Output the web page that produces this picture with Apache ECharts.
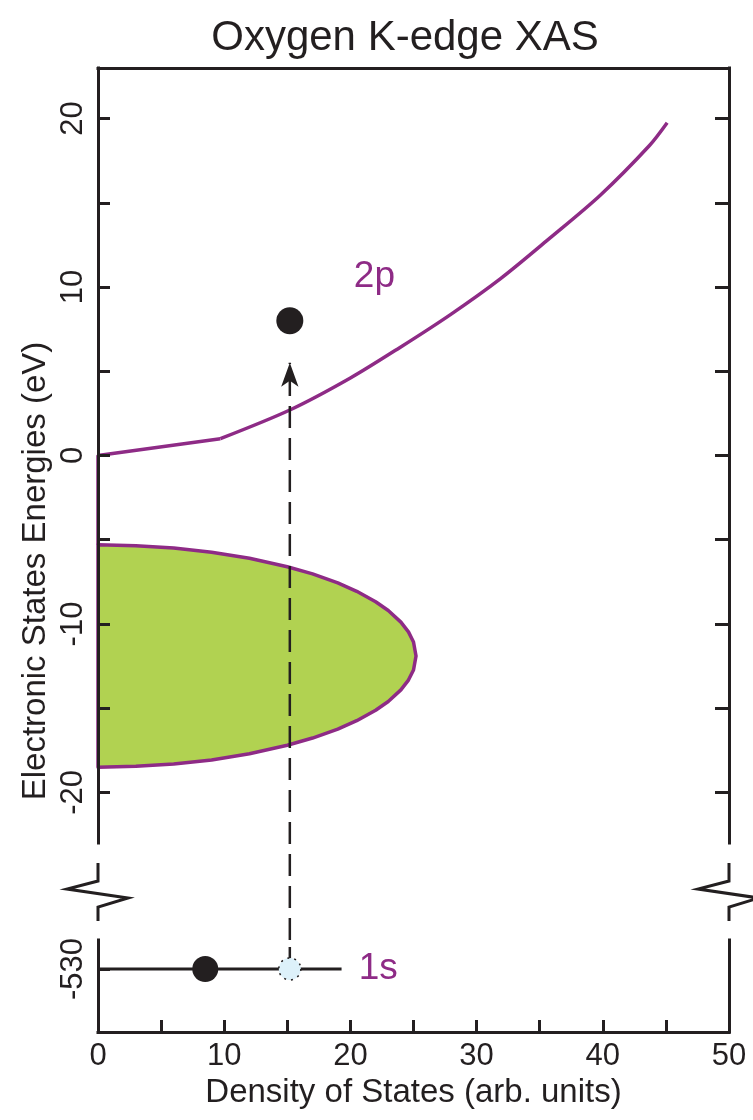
<!DOCTYPE html>
<html><head><meta charset="utf-8">
<script src="https://cdn.jsdelivr.net/npm/echarts@6/dist/echarts.min.js"></script>
<style>html,body{margin:0;padding:0;background:#fff}#c{width:753px;height:1120px}</style>
</head><body><div id="c"></div>
<script>
// ---- tick / label values ----
const xTickValues = [0, 5, 10, 15, 20, 25, 30, 35, 40, 45, 50];
const xLabelValues = [0, 10, 20, 30, 40, 50];
const yTickValues = [-20, -15, -10, -5, 0, 5, 10, 15, 20];
const yLabelValues = [-20, -10, 0, 10, 20];
const coreTickValues = [-530];

// ---- 2p conduction band (density of states, energy eV) ----
const p2StraightX = [0, 0, 9.7];
const p2StraightY = [-5.3, 0, 1.0];
const p2CurveX = [9.7, 15.2, 20.0, 23.9, 27.9, 31.9, 35.8, 39.8, 43.7, 45.1];
const p2CurveY = [1.0, 2.7, 4.6, 6.4, 8.35, 10.5, 12.9, 15.45, 18.4, 19.75];

// ---- filled valence band lobe ----
const vbX = [0, 3, 6, 9, 12, 15, 17, 19, 20.5, 22, 23, 24, 24.6, 25, 25.2];
const vbTopY = [-5.3, -5.35, -5.49, -5.74, -6.1, -6.6, -7.03, -7.56, -8.06, -8.68, -9.2, -9.89, -10.47, -11.07, -11.9];
const vbBottomY = [-18.5, -18.45, -18.31, -18.07, -17.7, -17.2, -16.77, -16.24, -15.74, -15.12, -14.6, -13.91, -13.33, -12.73, -11.9];

// ---- 1s core level and transition ----
const coreLevelX = [0, 19.3];
const coreLevelY = -530;
const coreElectronX = 8.5;
const coreHoleX = 15.2;
const excitedX = 15.2;
const excitedY = 8.0;
const arrowTipY = 5.5;
const label2p = { text: '2p', x: 21.9, y: 10.6 };
const label1s = { text: '1s', x: 22.2, y: -530 };

// ---- layout ----
const W = 753;
const L = 98, R = 729;
const topTop = 68, topBottom = 843, botTop = 940, botBottom = 1032;
const topMin = -23, topMax = 23, botMin = -533.7, botMax = -528.3;
const INK = '#231f20', PURPLE = '#8e2b86', GREEN = '#b1d251', HOLE = '#ddf1fa';
const FONT = '"Liberation Sans", Arial, Helvetica, sans-serif';

const topScale = (topBottom - topTop) / (topMax - topMin);
const dashBottomY = topMin - (botTop - topBottom) / topScale;

const vbPoly = [];
vbX.forEach((x, i) => vbPoly.push([x, vbTopY[i]]));
for (let i = vbX.length - 2; i >= 0; i--) vbPoly.push([vbX[i], vbBottomY[i]]);

const zip = (xs, ys) => xs.map((x, i) => [x, ys[i]]);

const chart = echarts.init(document.getElementById('c'), null, { renderer: 'canvas' });

const axisLineStyle = { color: INK, width: 3, cap: 'square' };
const tickStyle = { color: INK, width: 3 };

function zig(x) {
  return [[x, 863], [x, 881], [x - 31, 889], [x + 30, 898], [x, 907], [x, 921]];
}

chart.setOption({
  animation: false,
  backgroundColor: '#fff',
  textStyle: { fontFamily: FONT },
  grid: [
    { left: L, right: W - R, top: topTop, height: topBottom - topTop },
    { left: L, right: W - R, top: botTop, height: botBottom - botTop }
  ],
  xAxis: [
    { type: 'value', gridIndex: 0, min: 0, max: 50, position: 'top',
      axisLine: { show: true, onZero: false, lineStyle: axisLineStyle }, axisTick: { show: false },
      axisLabel: { show: false }, splitLine: { show: false }, z: 5 },
    { type: 'value', gridIndex: 1, min: 0, max: 50, position: 'bottom',
      axisLine: { show: true, onZero: false, lineStyle: axisLineStyle },
      axisTick: { show: true, inside: true, length: 12, customValues: xTickValues, lineStyle: tickStyle },
      axisLabel: { show: true, customValues: xLabelValues, margin: 9, fontSize: 31, color: INK, fontFamily: FONT },
      splitLine: { show: false }, z: 5,
      name: 'Density of States (arb. units)', nameLocation: 'middle', nameGap: 44,
      nameTextStyle: { fontSize: 33, color: INK, fontFamily: FONT } }
  ],
  yAxis: [
    { type: 'value', gridIndex: 0, min: topMin, max: topMax, position: 'left',
      axisLine: { show: true, onZero: false, lineStyle: axisLineStyle },
      axisTick: { show: true, inside: true, length: 12, customValues: yTickValues, lineStyle: tickStyle },
      axisLabel: { show: true, customValues: yLabelValues, rotate: 90, margin: 9, fontSize: 31, color: INK, fontFamily: FONT },
      splitLine: { show: false }, z: 5 },
    { type: 'value', gridIndex: 0, min: topMin, max: topMax, position: 'right',
      axisLine: { show: true, onZero: false, lineStyle: axisLineStyle },
      axisTick: { show: true, inside: true, length: 14, customValues: yTickValues, lineStyle: tickStyle },
      axisLabel: { show: false }, splitLine: { show: false }, z: 5 },
    { type: 'value', gridIndex: 1, min: botMin, max: botMax, position: 'left',
      axisLine: { show: true, onZero: false, lineStyle: axisLineStyle },
      axisTick: { show: true, inside: true, length: 12, customValues: coreTickValues, lineStyle: tickStyle },
      axisLabel: { show: true, customValues: coreTickValues, rotate: 90, margin: 9, fontSize: 31, color: INK, fontFamily: FONT },
      splitLine: { show: false }, z: 5 },
    { type: 'value', gridIndex: 1, min: botMin, max: botMax, position: 'right',
      axisLine: { show: true, onZero: false, lineStyle: axisLineStyle },
      axisTick: { show: false }, axisLabel: { show: false }, splitLine: { show: false }, z: 5 }
  ],
  graphic: [
    { type: 'text', x: 405, y: 38, z: 10,
      style: { text: 'Oxygen K-edge XAS', fontSize: 42, fontFamily: FONT, fill: INK, align: 'center', verticalAlign: 'middle' } },
    { type: 'text', x: 36, y: 571, rotation: Math.PI / 2, z: 10,
      style: { text: 'Electronic States Energies (eV)', fontSize: 33, fontFamily: FONT, fill: INK, align: 'center', verticalAlign: 'middle' } },
    { type: 'polyline', z: 10, shape: { points: zig(L) }, style: { stroke: INK, lineWidth: 3, fill: null } },
    { type: 'polyline', z: 10, shape: { points: zig(R) }, style: { stroke: INK, lineWidth: 3, fill: null } }
  ],
  series: [
    { type: 'custom', xAxisIndex: 0, yAxisIndex: 0, data: vbPoly, z: 1,
      renderItem: function (params, api) {
        if (params.dataIndex !== 0) return null;
        const pts = vbPoly.map(p => api.coord(p));
        return { type: 'polygon', shape: { points: pts },
          style: { fill: GREEN, stroke: PURPLE, lineWidth: 3.5, lineJoin: 'round' } };
      } },
    { type: 'line', xAxisIndex: 0, yAxisIndex: 0, data: zip(p2StraightX, p2StraightY),
      symbol: 'none', lineStyle: { color: PURPLE, width: 3.5 }, z: 2 },
    { type: 'line', xAxisIndex: 0, yAxisIndex: 0, data: zip(p2CurveX, p2CurveY), smooth: 0.3,
      symbol: 'none', lineStyle: { color: PURPLE, width: 3.5 }, z: 2 },
    { type: 'line', xAxisIndex: 0, yAxisIndex: 0, clip: false,
      data: [[coreHoleX, dashBottomY], [coreHoleX, arrowTipY]],
      symbol: function (v, p) { return p.dataIndex === 1 ? 'arrow' : 'none'; },
      showAllSymbol: true, symbolSize: [13, 24],
      itemStyle: { color: INK, opacity: 1 },
      lineStyle: { color: INK, width: 2.5, type: [22, 10] }, z: 3 },
    { type: 'scatter', xAxisIndex: 0, yAxisIndex: 0, data: [[excitedX, excitedY]],
      symbol: 'circle', symbolSize: 27, itemStyle: { color: INK, opacity: 1 }, z: 4 },
    { type: 'scatter', xAxisIndex: 0, yAxisIndex: 0, data: [[label2p.x, label2p.y]],
      symbolSize: 0, silent: true, z: 4, itemStyle: { opacity: 1 },
      label: { show: true, position: 'inside', formatter: label2p.text, fontSize: 37, color: PURPLE, opacity: 1, fontFamily: FONT } },
    { type: 'line', xAxisIndex: 1, yAxisIndex: 2, data: coreLevelX.map(x => [x, coreLevelY]),
      symbol: 'none', lineStyle: { color: INK, width: 3 }, z: 2 },
    { type: 'line', xAxisIndex: 1, yAxisIndex: 2, clip: false,
      data: [[coreHoleX, coreLevelY], [coreHoleX, botMax]],
      symbol: 'none', lineStyle: { color: INK, width: 2.5, type: [22, 10] }, z: 3 },
    { type: 'scatter', xAxisIndex: 1, yAxisIndex: 2, data: [[coreElectronX, coreLevelY]],
      symbol: 'circle', symbolSize: 26, itemStyle: { color: INK, opacity: 1 }, z: 4 },
    { type: 'scatter', xAxisIndex: 1, yAxisIndex: 2, data: [[coreHoleX, coreLevelY]],
      symbol: 'circle', symbolSize: 22,
      itemStyle: { color: HOLE, opacity: 1, borderColor: INK, borderWidth: 1.5, borderType: [2, 5] }, z: 4 },
    { type: 'scatter', xAxisIndex: 1, yAxisIndex: 2, data: [[label1s.x, label1s.y]],
      symbolSize: 0, silent: true, z: 4, itemStyle: { opacity: 1 },
      label: { show: true, position: 'inside', formatter: label1s.text, fontSize: 37, color: PURPLE, opacity: 1, fontFamily: FONT } }
  ]
});
</script></body></html>
